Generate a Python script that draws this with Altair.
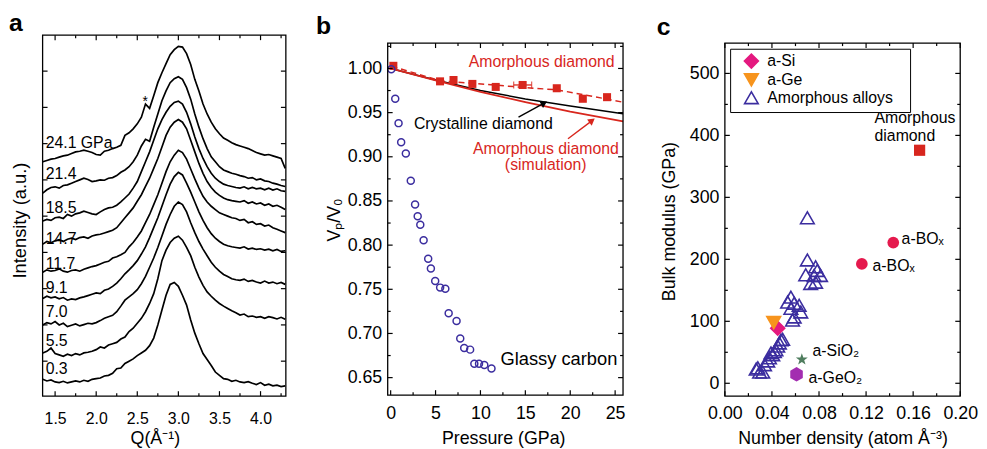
import altair as alt
import pandas as pd

FONT = "Liberation Sans"
RED = "#d8261d"
BLUE = "#3b2d9f"

# ---------------- panel a : XRD curves ----------------
Q = [1.35, 1.40, 1.45, 1.50, 1.55, 1.60, 1.65, 1.70, 1.75, 1.80,
     1.85, 1.90, 1.95, 2.00, 2.05, 2.10, 2.15, 2.20, 2.25, 2.30,
     2.35, 2.40, 2.45, 2.50, 2.55, 2.60, 2.65, 2.70, 2.75, 2.80,
     2.85, 2.90, 2.95, 3.00, 3.05, 3.10, 3.15, 3.20, 3.25, 3.30,
     3.35, 3.40, 3.45, 3.50, 3.55, 3.60, 3.65, 3.70, 3.75, 3.80,
     3.85, 3.90, 3.95, 4.00, 4.05, 4.10, 4.15, 4.20, 4.25, 4.30]

I_0_3 = [6.0, 5.5, 5.8, 5.2, 5.0, 5.4, 4.9, 5.2, 5.5, 5.2,
         5.7, 5.4, 6.0, 6.2, 6.4, 7.0, 7.2, 7.8, 9.2, 9.4,
         10.8, 11.5, 12.2, 13.2, 14.0, 14.8, 16.2, 18.5, 22.5, 27.0,
         31.5, 34.8, 35.4, 34.2, 31.5, 28.5, 24.0, 20.0, 16.8, 13.8,
         12.0, 10.2, 8.2, 7.2, 6.2, 6.0, 5.4, 5.7, 5.2, 5.0,
         5.3, 4.8, 4.4, 5.0, 4.2, 4.5, 4.0, 4.2, 3.8, 4.0]
I_5_5 = [14.0, 14.5, 15.5, 13.8, 13.4, 13.0, 13.6, 13.2, 13.8, 13.4,
         14.0, 14.2, 14.5, 15.0, 15.8, 15.5, 16.4, 16.8, 17.2, 18.2,
         18.8, 20.5, 21.5, 23.0, 24.5, 26.5, 29.0, 32.0, 36.5, 42.0,
         45.2, 47.5, 48.8, 49.4, 48.2, 46.0, 43.5, 40.0, 37.0, 34.5,
         32.5, 31.2, 30.0, 29.0, 28.2, 27.5, 26.8, 26.2, 25.5, 25.8,
         25.0, 25.2, 24.8, 25.0, 24.5, 25.0, 24.7, 24.3, 24.8, 24.2]
I_7_0 = [22.5, 23.2, 22.8, 23.5, 22.5, 23.0, 22.0, 22.4, 22.8, 22.2,
         22.6, 23.0, 22.8, 23.2, 23.8, 24.5, 25.0, 25.4, 26.5, 28.2,
         30.0, 31.0, 32.0, 33.2, 35.0, 37.2, 40.0, 42.8, 46.0, 49.5,
         53.0, 56.0, 58.5, 59.8, 59.0, 56.8, 53.5, 50.5, 47.8, 45.5,
         43.5, 41.5, 40.0, 38.8, 37.8, 37.2, 36.5, 36.2, 36.0, 36.4,
         35.7, 36.0, 35.5, 35.2, 35.8, 35.2, 35.5, 35.0, 35.4, 34.8]
I_9_1 = [30.5, 31.2, 30.7, 31.0, 30.4, 30.8, 30.0, 30.4, 30.2, 30.7,
         31.0, 31.4, 31.8, 32.2, 32.0, 33.0, 33.4, 34.2, 35.2, 36.5,
         38.0, 39.2, 40.5, 42.0, 44.0, 46.2, 49.0, 52.0, 55.0, 58.5,
         62.0, 65.2, 67.5, 68.8, 68.0, 65.5, 62.8, 59.8, 56.8, 54.2,
         52.0, 50.2, 48.8, 47.8, 47.0, 46.5, 46.2, 46.0, 45.8, 46.2,
         45.5, 45.8, 45.4, 45.6, 45.2, 45.5, 45.0, 45.4, 44.8, 45.0]
I_11_7 = [38.5, 39.2, 38.8, 39.0, 39.5, 38.8, 38.5, 39.0, 39.2, 38.8,
          39.4, 39.8, 40.2, 40.5, 41.0, 41.5, 41.8, 42.8, 43.2, 43.8,
          44.5, 46.2, 47.5, 49.2, 51.0, 53.5, 56.0, 59.0, 62.0, 65.5,
          69.0, 72.0, 74.0, 75.5, 74.8, 72.8, 69.8, 66.8, 64.0, 61.5,
          59.8, 58.5, 57.5, 56.5, 56.0, 55.5, 55.0, 54.8, 54.2, 54.5,
          53.5, 53.8, 53.0, 53.2, 52.5, 52.8, 52.0, 51.5, 51.0, 50.5]
I_14_7 = [47.0, 47.8, 47.4, 48.0, 48.4, 47.8, 48.5, 48.8, 48.4, 49.0,
          49.2, 48.8, 49.5, 49.8, 50.0, 50.4, 50.8, 51.2, 52.0, 53.5,
          55.0, 56.5, 58.0, 60.0, 62.0, 64.5, 67.0, 70.0, 73.0, 76.5,
          80.0, 82.5, 84.0, 84.8, 84.0, 82.0, 78.5, 75.0, 71.5, 68.5,
          66.0, 64.2, 62.8, 61.8, 61.0, 60.5, 60.2, 60.0, 59.8, 60.2,
          59.4, 59.8, 59.2, 59.5, 58.8, 59.2, 58.5, 58.8, 58.2, 57.5]
I_18_5 = [54.0, 54.5, 54.2, 55.0, 55.2, 54.8, 56.0, 55.5, 56.2, 56.5,
          57.0, 56.6, 56.2, 56.0, 56.8, 57.5, 58.0, 58.2, 58.8, 59.8,
          61.0, 62.2, 64.0, 66.0, 69.0, 72.0, 75.0, 78.5, 82.0, 84.8,
          87.0, 88.8, 90.0, 90.4, 89.5, 87.0, 83.5, 79.5, 76.0, 73.0,
          70.5, 68.5, 67.0, 66.0, 65.2, 64.8, 64.5, 64.2, 64.0, 64.4,
          63.8, 64.2, 63.8, 64.0, 63.5, 64.0, 63.4, 63.8, 63.2, 63.0]
I_21_4 = [62.5, 63.5, 64.2, 64.4, 64.0, 64.8, 65.0, 65.5, 66.0, 66.5,
          67.0, 66.6, 66.0, 66.2, 66.5, 66.4, 67.0, 67.2, 67.8, 68.8,
          69.5, 70.5, 72.0, 74.0, 76.8, 78.8, 78.2, 82.5, 86.5, 90.5,
          93.5, 96.0, 97.2, 97.8, 97.0, 94.5, 91.0, 86.5, 82.5, 79.0,
          76.0, 73.5, 72.0, 70.5, 69.5, 69.0, 68.5, 68.2, 67.8, 67.5,
          67.0, 67.2, 66.5, 66.8, 66.2, 66.0, 65.5, 65.2, 64.8, 64.5]
I_24_1 = [72.0, 72.4, 72.8, 73.0, 73.4, 73.8, 74.0, 74.5, 75.0, 75.2,
          75.5, 75.2, 74.8, 74.2, 74.0, 75.2, 75.5, 76.0, 76.4, 77.0,
          80.0, 80.8, 82.0, 83.5, 85.5, 89.5, 88.2, 92.0, 96.0, 99.0,
          101.8, 104.5, 106.0, 107.0, 106.8, 104.8, 101.5, 97.0, 93.5, 89.5,
          86.5, 84.0, 82.0, 80.5, 79.2, 78.5, 77.8, 77.2, 76.8, 76.4,
          76.0, 75.4, 74.8, 74.4, 74.0, 74.2, 73.8, 73.4, 73.0, 70.0]

A_PRESSURES = ["0.3", "5.5", "7.0", "9.1", "11.7", "14.7", "18.5", "21.4", "24.1"]
A_CURVES = [I_0_3, I_5_5, I_7_0, I_9_1, I_11_7, I_14_7, I_18_5, I_21_4, I_24_1]
A_LABELS = ["0.3", "5.5", "7.0", "9.1", "11.7", "14.7", "18.5", "21.4", "24.1 GPa"]
A_LABEL_I = [7.5, 16.1, 24.8, 32.3, 39.6, 47.1, 56.6, 66.8, 76.3]
A_LABEL_Q = [1.385] * 9
A_STAR_Q = [2.596]
A_STAR_I = [90.2]

# ---------------- panel b : compression ----------------
GC_P = [0.07, 0.51, 0.88, 1.17, 1.69, 2.24, 2.72, 3.01, 3.30, 3.67, 4.18, 4.48,
        4.96, 5.51, 6.09, 6.46, 7.34, 7.75, 8.19, 8.85, 9.32, 9.84, 10.43, 11.23]
GC_V = [0.999, 0.9657, 0.9381, 0.9164, 0.9037, 0.8728, 0.8459, 0.8328, 0.8231, 0.8056,
        0.7847, 0.7735, 0.7593, 0.7519, 0.7507, 0.7228, 0.7142, 0.6944, 0.6836, 0.6817,
        0.6657, 0.6657, 0.6642, 0.6604]
AD_P = [0.3, 5.5, 7.0, 9.1, 11.7, 14.7, 18.5, 21.4, 24.1]
AD_V = [1.003, 0.9854, 0.9869, 0.9825, 0.9791, 0.9813, 0.9776, 0.9657, 0.9675]
AD_ERR_LO = [13.7]
AD_ERR_HI = [15.7]
AD_ERR_V = [0.9813]
FIT_P = [0.1, 5.6, 9.1, 15.0, 18.6, 24.1, 25.88]
FIT_V = [1.0026, 0.9858, 0.9832, 0.9784, 0.9757, 0.9653, 0.9618]
CD_P = [0, 5, 10, 15, 20, 25.88]
CD_V = [1.000, 0.987, 0.975, 0.9655, 0.9575, 0.9487]
SIM_P = [0, 5, 10, 15, 20, 25.88]
SIM_V = [1.000, 0.9865, 0.9735, 0.962, 0.951, 0.9402]
ARROW_P0 = [14.24, 19.75]
ARROW_V0 = [0.9448, 0.9205]
ARROW_P1 = [17.09, 22.43]
ARROW_V1 = [0.9608, 0.9410]
ARROW_COLOR = ["black", RED]
ARROW_ANGLE = [61, 53]
B_TEXT = ["Amorphous diamond", "Crystalline diamond", "Amorphous diamond", "(simulation)", "Glassy carbon"]
B_TEXT_P = [16.82, 10.32, 17.29, 17.27, 18.74]
B_TEXT_V = [1.0019, 0.9317, 0.9037, 0.8851, 0.6641]
B_TEXT_COLOR = [RED, "black", RED, RED, "black"]
B_TEXT_SIZE = [16, 16, 16, 16, 18.5]

# ---------------- panel c : bulk modulus ----------------
ALLOY_X = [0.0701, 0.0701, 0.0687, 0.0771, 0.0785, 0.0758, 0.0813, 0.0729, 0.0771,
           0.0561, 0.0533, 0.0589, 0.0631, 0.0561, 0.0645, 0.0575, 0.0589,
           0.0491, 0.0477, 0.0463, 0.0449, 0.0434, 0.0421, 0.0407, 0.0392, 0.0379,
           0.0364, 0.0337, 0.0280, 0.0266, 0.0295, 0.0322]
ALLOY_Y = [267, 199, 175, 188, 182, 174, 174, 161, 163,
           139, 131, 129, 126, 121, 115, 102, 107,
           71, 70, 65, 60, 54, 51, 46, 49, 41,
           36, 30, 25, 23, 18, 18]
ASI_X, ASI_Y = [0.0449], [88.8]
AGE_X, AGE_Y = [0.0415], [97.9]
BOX_X, BOX_Y = [0.1431, 0.1164], [227, 192.6]
ADIA_X, ADIA_Y = [0.1655], [376]
SIO2_X, SIO2_Y = [0.0654], [38.3]
GEO2_X, GEO2_Y = [0.0609], [14.4]
C_TEXT = ["a-BOₓ", "a-BOₓ", "a-SiO₂", "a-GeO₂", "Amorphous", "diamond"]
C_TEXT_X = [0.1502, 0.1255, 0.0745, 0.0711, 0.1272, 0.1272]
C_TEXT_Y = [225, 180.8, 43.6, 0.0, 420.2, 390.9]
LEG_ORDER = ["a-Si", "a-Ge", "Amorphous alloys"]

STAR = "M0,-1L0.235,-0.324L0.951,-0.309L0.38,0.124L0.588,0.809L0,0.4L-0.588,0.809L-0.38,0.124L-0.951,-0.309L-0.235,-0.324Z"
HEXA = "M0,-1L0.866,-0.5L0.866,0.5L0,1L-0.866,0.5L-0.866,-0.5Z"


def deco(W, top, bottom, X, Y, xmaj, xmin, ymaj, ymin, lmaj=5, lmin=3):
    layers = []
    for vals, L in ((xmaj, lmaj), (xmin, lmin)):
        d = alt.Chart(pd.DataFrame({"v": vals}))
        layers.append(d.mark_rule(color="black", strokeWidth=1.2).encode(
            x=X("v:Q"), y=alt.value(bottom), y2=alt.value(bottom - L)))
        layers.append(d.mark_rule(color="black", strokeWidth=1.2).encode(
            x=X("v:Q"), y=alt.value(top), y2=alt.value(top + L)))
    for vals, L in ((ymaj, lmaj), (ymin, lmin)):
        if not vals:
            continue
        d = alt.Chart(pd.DataFrame({"v": vals}))
        layers.append(d.mark_rule(color="black", strokeWidth=1.2).encode(
            y=Y("v:Q"), x=alt.value(0), x2=alt.value(L)))
        layers.append(d.mark_rule(color="black", strokeWidth=1.2).encode(
            y=Y("v:Q"), x=alt.value(W), x2=alt.value(W - L)))
    frame = alt.Chart(pd.DataFrame({"k": [0]})).mark_rect(
        fill="transparent", stroke="black", strokeWidth=1.3).encode(
        x=alt.value(0), x2=alt.value(W), y=alt.value(top), y2=alt.value(bottom))
    layers.append(frame)
    return layers


def letter(ch, x, y):
    return alt.Chart(pd.DataFrame({"t": [ch]})).mark_text(
        font=FONT, fontSize=25, fontWeight="bold", align="left",
        baseline="alphabetic", color="black").encode(
        x=alt.value(x), y=alt.value(y), text="t:N")


# ---------- panel a ----------
rows = []
for p, vals in zip(A_PRESSURES, A_CURVES):
    for q, v in zip(Q, vals):
        rows.append({"Q": q, "I": v, "P": p})
df_a = pd.DataFrame(rows)

WA, HA = 246, 365
xa = alt.Scale(domain=[1.348, 4.308], nice=False, zero=False)
ya = alt.Scale(domain=[0.9, 110.4], nice=False, zero=False)
AX_AX = alt.Axis(values=[1.5, 2.0, 2.5, 3.0, 3.5, 4.0], format=".1f", labelFontSize=16,
                 labelPadding=15, ticks=False, domain=False, grid=False, labelFlush=False,
                 labelOverlap=False, title="Q(Å⁻¹)", titleFontSize=18, titlePadding=2.5,
                 titleX=113.5)
AX_AY = alt.Axis(labels=False, ticks=False, domain=False, grid=False,
                 title="Intensity (a.u.)", titleFontSize=18.5, titlePadding=13.7, titleY=187)


def XA(f):
    return alt.X(f, scale=xa, axis=AX_AX)


def YA(f):
    return alt.Y(f, scale=ya, axis=AX_AY)


lines_a = alt.Chart(df_a).mark_line(color="black", strokeWidth=1.7).encode(
    x=XA("Q:Q"), y=YA("I:Q"), detail="P:N")
lab_a = alt.Chart(pd.DataFrame({"q": A_LABEL_Q, "i": A_LABEL_I, "t": A_LABELS})).mark_text(
    font=FONT, fontSize=16, align="left", baseline="alphabetic", color="black").encode(
    x=XA("q:Q"), y=YA("i:Q"), text="t:N")
star_a = alt.Chart(pd.DataFrame({"q": A_STAR_Q, "i": A_STAR_I, "t": ["*"]})).mark_text(
    font=FONT, fontSize=14, align="center", baseline="middle", color="black").encode(
    x=XA("q:Q"), y=YA("i:Q"), text="t:N")

pa = alt.layer(
    lines_a, lab_a, star_a,
    *deco(WA, 0, HA, XA, YA, [1.5, 2.0, 2.5, 3.0, 3.5, 4.0],
          [1.75, 2.25, 2.75, 3.25, 3.75, 4.25],
          [11.5, 22.5, 33.5, 44.5, 55.5, 66.5, 77.5, 88.5, 99.5], []),
    letter("a", -34, -4),
).properties(width=WA, height=HA)

# ---------- panel b ----------
WB, HB = 238, 365
xb = alt.Scale(domain=[-0.33, 25.88], nice=False, zero=False)
yb = alt.Scale(domain=[0.6302, 1.0287], range=[364, 8], nice=False, zero=False)
AX_BX = alt.Axis(values=[0, 5, 10, 15, 20, 25], format="d", labelFontSize=18, labelPadding=9,
                 ticks=False, domain=False, grid=False, labelFlush=False, labelOverlap=False,
                 title="Pressure (GPa)", titleFontSize=18, titlePadding=6.5, titleX=116.8)
AX_BY = alt.Axis(values=[0.65, 0.70, 0.75, 0.80, 0.85, 0.90, 0.95, 1.00], format=".2f",
                 labelFontSize=18, labelPadding=6, ticks=False, domain=False, grid=False,
                 labelFlush=False, labelOverlap=False, title="Vₚ/V₀", titleFontSize=18,
                 titlePadding=4, titleY=186.5)


def XB(f):
    return alt.X(f, scale=xb, axis=AX_BX)


def YB(f):
    return alt.Y(f, scale=yb, axis=AX_BY)


cd_line = alt.Chart(pd.DataFrame({"p": CD_P, "v": CD_V})).mark_line(
    color="black", strokeWidth=1.5).encode(x=XB("p:Q"), y=YB("v:Q"))
sim_line = alt.Chart(pd.DataFrame({"p": SIM_P, "v": SIM_V})).mark_line(
    color=RED, strokeWidth=1.8).encode(x=XB("p:Q"), y=YB("v:Q"))
fit_line = alt.Chart(pd.DataFrame({"p": FIT_P, "v": FIT_V})).mark_line(
    color=RED, strokeWidth=1.5, strokeDash=[6, 4]).encode(x=XB("p:Q"), y=YB("v:Q"))
err_df = pd.DataFrame({"lo": AD_ERR_LO, "hi": AD_ERR_HI, "v": AD_ERR_V})
err_rule = alt.Chart(err_df).mark_rule(color=RED, strokeWidth=1.3).encode(
    x=XB("lo:Q"), x2="hi:Q", y=YB("v:Q"))
err_caps = alt.Chart(pd.DataFrame({"p": AD_ERR_LO + AD_ERR_HI, "v": AD_ERR_V * 2})).mark_tick(
    color=RED, orient="vertical", size=7, thickness=1.3).encode(x=XB("p:Q"), y=YB("v:Q"))
squares = alt.Chart(pd.DataFrame({"p": AD_P, "v": AD_V})).mark_point(
    shape="square", filled=True, size=66, color=RED, opacity=1).encode(x=XB("p:Q"), y=YB("v:Q"))
circles = alt.Chart(pd.DataFrame({"p": GC_P, "v": GC_V})).mark_point(
    shape="circle", filled=False, size=50, strokeWidth=1.5, color=BLUE, opacity=1).encode(
    x=XB("p:Q"), y=YB("v:Q"))
arr_df = pd.DataFrame({"p0": ARROW_P0, "v0": ARROW_V0, "p1": ARROW_P1, "v1": ARROW_V1,
                       "c": ARROW_COLOR, "a": ARROW_ANGLE})
arr_shaft = alt.Chart(arr_df).mark_rule(strokeWidth=1.4).encode(
    x=XB("p0:Q"), y=YB("v0:Q"), x2="p1:Q", y2="v1:Q", color=alt.Color("c:N", scale=None))
arr_head = alt.Chart(arr_df).mark_point(shape="triangle-up", filled=True, size=60, opacity=1).encode(
    x=XB("p1:Q"), y=YB("v1:Q"), color=alt.Color("c:N", scale=None),
    angle=alt.Angle("a:Q", scale=None))
txt_b = alt.Chart(pd.DataFrame({"p": B_TEXT_P, "v": B_TEXT_V, "t": B_TEXT, "c": B_TEXT_COLOR,
                                "s": B_TEXT_SIZE})).mark_text(
    font=FONT, align="center", baseline="alphabetic").encode(
    x=XB("p:Q"), y=YB("v:Q"), text="t:N", color=alt.Color("c:N", scale=None),
    size=alt.Size("s:Q", scale=None))

pb = alt.layer(
    cd_line, sim_line, fit_line, err_rule, err_caps, squares, circles, arr_shaft, arr_head, txt_b,
    *deco(WB, 8, 364, XB, YB, [0, 5, 10, 15, 20, 25], [2.5, 7.5, 12.5, 17.5, 22.5],
          [0.65, 0.70, 0.75, 0.80, 0.85, 0.90, 0.95, 1.00],
          [0.675, 0.725, 0.775, 0.825, 0.875, 0.925, 0.975, 1.025]),
    letter("b", -72.5, -1.3),
).properties(width=WB, height=HB)

# ---------- panel c ----------
WC, HC = 238, 365
xc = alt.Scale(domain=[0, 0.2], nice=False, zero=False)
yc = alt.Scale(domain=[-20.7, 548.9], range=[365, 8], nice=False, zero=False)
AX_CX = alt.Axis(values=[0, 0.04, 0.08, 0.12, 0.16, 0.20], format=".2f", labelFontSize=18,
                 labelPadding=9, ticks=False, domain=False, grid=False, labelFlush=False,
                 labelOverlap=False, title="Number density (atom Å⁻³)", titleFontSize=18,
                 titlePadding=6.5)
AX_CY = alt.Axis(values=[0, 100, 200, 300, 400, 500], format="d", labelFontSize=18, labelPadding=6,
                 ticks=False, domain=False, grid=False, labelFlush=False, labelOverlap=False,
                 title="Bulk modulus (GPa)", titleFontSize=18, titlePadding=11, titleY=188)


def XC(f):
    return alt.X(f, scale=xc, axis=AX_CX)


def YC(f):
    return alt.Y(f, scale=yc, axis=AX_CY)


leg_df = pd.DataFrame({
    "x": ALLOY_X + ASI_X + AGE_X,
    "y": ALLOY_Y + ASI_Y + AGE_Y,
    "series": ["Amorphous alloys"] * len(ALLOY_X) + ["a-Si"] * len(ASI_X) + ["a-Ge"] * len(AGE_X),
})
legend = alt.Legend(
    title=None, orient="none", legendX=5.3, legendY=13.7, strokeColor="black",
    fillColor="white", padding=4.5, labelFontSize=16, labelFont=FONT, rowPadding=-3,
    symbolOffset=9, labelOffset=8, symbolStrokeWidth=1.6, symbolOpacity=1,
    labelExpr="datum.label + '\u2800'")
legend_pts = alt.Chart(leg_df).mark_point(filled=True, opacity=1, strokeWidth=1.6).encode(
    x=XC("x:Q"), y=YC("y:Q"),
    fill=alt.Fill("series:N", scale=alt.Scale(domain=LEG_ORDER, range=["#e4197f", "#f7941d", "transparent"]), legend=legend),
    stroke=alt.Stroke("series:N", scale=alt.Scale(domain=LEG_ORDER, range=["#e4197f", "#f7941d", BLUE]), legend=legend),
    shape=alt.Shape("series:N", scale=alt.Scale(domain=LEG_ORDER, range=["diamond", "triangle-down", "triangle-up"]), legend=legend),
    size=alt.Size("series:N", scale=alt.Scale(domain=LEG_ORDER, range=[200, 190, 120]), legend=legend),
)
box_pts = alt.Chart(pd.DataFrame({"x": BOX_X, "y": BOX_Y})).mark_point(
    shape="circle", filled=True, size=140, color="#e5194d", opacity=1).encode(x=XC("x:Q"), y=YC("y:Q"))
adia_pts = alt.Chart(pd.DataFrame({"x": ADIA_X, "y": ADIA_Y})).mark_point(
    shape="square", filled=True, size=128, color="#d7261e", opacity=1).encode(x=XC("x:Q"), y=YC("y:Q"))
sio2_pts = alt.Chart(pd.DataFrame({"x": SIO2_X, "y": SIO2_Y})).mark_point(
    shape=STAR, filled=True, size=160, color="#4f7d5e", opacity=1).encode(x=XC("x:Q"), y=YC("y:Q"))
geo2_pts = alt.Chart(pd.DataFrame({"x": GEO2_X, "y": GEO2_Y})).mark_point(
    shape=HEXA, filled=True, size=215, color="#a32db0", opacity=1).encode(x=XC("x:Q"), y=YC("y:Q"))
txt_c = alt.Chart(pd.DataFrame({"x": C_TEXT_X, "y": C_TEXT_Y, "t": C_TEXT})).mark_text(
    font=FONT, fontSize=16, align="left", baseline="alphabetic", color="black").encode(
    x=XC("x:Q"), y=YC("y:Q"), text="t:N")

pc = alt.layer(
    legend_pts, box_pts, adia_pts, sio2_pts, geo2_pts, txt_c,
    *deco(WC, 8, 365, XC, YC, [0, 0.04, 0.08, 0.12, 0.16, 0.20], [0.02, 0.06, 0.10, 0.14, 0.18],
          [0, 100, 200, 300, 400, 500], [50, 150, 250, 350, 450]),
    letter("c", -69, -0.3),
).properties(width=WC, height=HC)

chart = alt.hconcat(pa, pb, pc, spacing=103, bounds="flush").resolve_scale(
    fill="independent", stroke="independent", shape="independent", size="independent",
    color="independent", angle="independent",
).properties(
    padding={"left": 0, "top": 0, "right": 0, "bottom": 0}, background="white",
).configure_view(stroke="transparent").configure_axis(
    labelFont=FONT, titleFont=FONT, titleFontWeight="normal", labelColor="black",
    titleColor="black", grid=False,
)

chart.save("out.html", embed_options={"renderer": "svg", "actions": False})
